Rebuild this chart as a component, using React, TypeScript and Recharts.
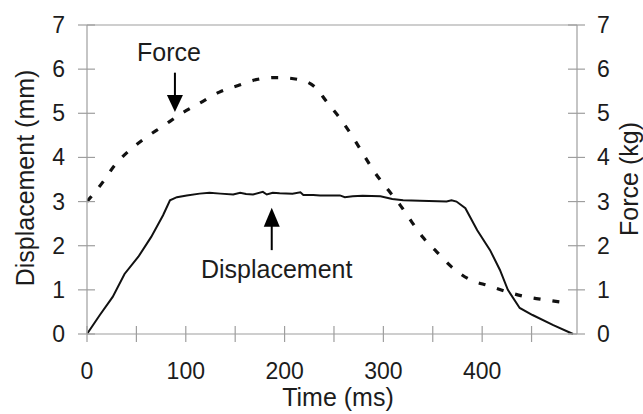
import React from 'react';
import { LineChart, Line, XAxis, YAxis, ReferenceLine, ReferenceDot, Label } from 'recharts';

const AXIS = '#9e9e9e';
const TXT = '#1c1c1c';
const FONT = '"Liberation Sans", Arial, Helvetica, sans-serif';
const FS = 23;
const TFS = 25;

// Tick values
const xTicks = [0, 50, 100, 150, 200, 250, 300, 350, 400, 450];
const xTickLabels = [0, 100, 200, 300, 400];
const yTicks = [0, 1, 2, 3, 4, 5, 6, 7];

// Displacement series (mm)
const dispTime = [0, 13, 26, 38, 52, 65, 77, 84, 91, 101, 114, 124, 135, 148, 155, 161, 168, 178, 182, 188, 195, 208, 216, 219, 229, 236, 256, 261, 269, 279, 297, 309, 320, 337, 364, 369, 374, 383, 395, 408, 418, 426, 438, 451, 472, 492];
const dispValues = [0, 0.43, 0.84, 1.36, 1.75, 2.2, 2.69, 3.03, 3.1, 3.14, 3.18, 3.2, 3.18, 3.16, 3.2, 3.17, 3.16, 3.22, 3.16, 3.2, 3.19, 3.18, 3.21, 3.15, 3.15, 3.14, 3.14, 3.1, 3.12, 3.13, 3.12, 3.06, 3.03, 3.02, 3.0, 3.03, 3.0, 2.85, 2.35, 1.9, 1.45, 1.0, 0.59, 0.43, 0.2, 0];

// Force series (kg)
const forceTime = [0, 16, 28, 41, 57, 77, 96, 114, 134, 153, 173, 193, 213, 231, 243, 256, 268, 279, 291, 305, 317, 329, 340, 354, 369, 387, 407, 426, 445, 465, 486];
const forceValues = [3.0, 3.44, 3.82, 4.12, 4.41, 4.71, 5.0, 5.23, 5.48, 5.63, 5.77, 5.81, 5.77, 5.59, 5.25, 4.89, 4.5, 4.1, 3.67, 3.26, 2.92, 2.53, 2.19, 1.86, 1.52, 1.24, 1.09, 0.95, 0.84, 0.77, 0.7];

const dispData = dispTime.map((t, i) => ({ t, v: dispValues[i] }));
const forceData = forceTime.map((t, i) => ({ t, v: forceValues[i] }));

const XTick = (props: any) => {
  const { x, y, payload } = props;
  const v = payload.value;
  return (
    <g>
      <line x1={x} x2={x} y1={y - 8} y2={y + 8} stroke={AXIS} strokeWidth={1.2} />
      {xTickLabels.includes(v) && (
        <text x={x} y={y + 37} textAnchor="middle" dominantBaseline="central" fontSize={FS} fill={TXT} fontFamily={FONT}>
          {v}
        </text>
      )}
    </g>
  );
};

const LeftTick = (props: any) => {
  const { x, y, payload } = props;
  return (
    <g>
      <line x1={x - 9} x2={x + 8} y1={y} y2={y} stroke={AXIS} strokeWidth={1.2} />
      <text x={x - 22} y={y} textAnchor="end" dominantBaseline="central" fontSize={FS} fill={TXT} fontFamily={FONT}>
        {payload.value}
      </text>
    </g>
  );
};

const RightTick = (props: any) => {
  const { x, y, payload } = props;
  return (
    <g>
      <line x1={x - 9} x2={x + 8} y1={y} y2={y} stroke={AXIS} strokeWidth={1.2} />
      <text x={x + 20} y={y} textAnchor="start" dominantBaseline="central" fontSize={FS} fill={TXT} fontFamily={FONT}>
        {payload.value}
      </text>
    </g>
  );
};

const textShape = (label: string) => (p: any) => (
  <text x={p.cx} y={p.cy} textAnchor="middle" fontSize={TFS} fill={TXT} fontFamily={FONT}>
    {label}
  </text>
);

const downHead = (p: any) => (
  <path d={`M${p.cx},${p.cy} L${p.cx - 8},${p.cy - 17} L${p.cx + 8},${p.cy - 17} Z`} fill="#000" />
);
const upHead = (p: any) => (
  <path d={`M${p.cx},${p.cy} L${p.cx - 8},${p.cy + 19} L${p.cx + 8},${p.cy + 19} Z`} fill="#000" />
);

export default function App() {
  return (
    <div style={{ position: 'absolute', left: 0, top: 0, background: '#fff' }}>
      <LineChart width={643} height={414} margin={{ top: 25, right: 0, bottom: 0, left: 0 }}>
        <XAxis
          dataKey="t"
          type="number"
          domain={[0, 496]}
          ticks={xTicks}
          interval={0}
          height={80}
          tickSize={0}
          tickMargin={0}
          tickLine={false}
          axisLine={{ stroke: AXIS, strokeWidth: 1.2 }}
          tick={<XTick />}
          allowDataOverflow
        >
          <Label
            content={(p: any) => (
              <text
                x={p.viewBox.x + p.viewBox.width / 2 + 6}
                y={p.viewBox.y + 72}
                textAnchor="middle"
                fontSize={TFS}
                fill={TXT}
                fontFamily={FONT}
              >
                Time (ms)
              </text>
            )}
          />
        </XAxis>
        <YAxis
          yAxisId="left"
          orientation="left"
          type="number"
          domain={[0, 7]}
          ticks={yTicks}
          interval={0}
          width={87}
          tickSize={0}
          tickMargin={0}
          tickLine={false}
          axisLine={{ stroke: AXIS, strokeWidth: 1.2 }}
          tick={<LeftTick />}
        >
          <Label
            content={(p: any) => {
              const cx = p.viewBox.x + 25;
              const cy = p.viewBox.y + 153;
              return (
                <text
                  x={cx}
                  y={cy}
                  transform={`rotate(-90 ${cx} ${cy})`}
                  textAnchor="middle"
                  dominantBaseline="central"
                  fontSize={TFS}
                  fill={TXT}
                  fontFamily={FONT}
                >
                  Displacement (mm)
                </text>
              );
            }}
          />
        </YAxis>
        <YAxis
          yAxisId="right"
          orientation="right"
          type="number"
          domain={[0, 7]}
          ticks={yTicks}
          interval={0}
          width={66}
          tickSize={0}
          tickMargin={0}
          tickLine={false}
          axisLine={{ stroke: AXIS, strokeWidth: 1.2 }}
          tick={<RightTick />}
        >
          <Label
            content={(p: any) => {
              const cx = p.viewBox.x + 52;
              const cy = p.viewBox.y + 154;
              return (
                <text
                  x={cx}
                  y={cy}
                  transform={`rotate(-90 ${cx} ${cy})`}
                  textAnchor="middle"
                  dominantBaseline="central"
                  fontSize={TFS}
                  fill={TXT}
                  fontFamily={FONT}
                >
                  Force (kg)
                </text>
              );
            }}
          />
        </YAxis>
        <ReferenceLine yAxisId="left" y={7} stroke={AXIS} strokeWidth={1.2} />
        <Line
          yAxisId="left"
          data={dispData}
          dataKey="v"
          type="linear"
          stroke="#111"
          strokeWidth={2}
          dot={false}
          isAnimationActive={false}
        />
        <Line
          yAxisId="right"
          data={forceData}
          dataKey="v"
          type="monotone"
          stroke="#111"
          strokeWidth={3.2}
          strokeDasharray="7 12"
          dot={false}
          isAnimationActive={false}
        />
        {/* Annotations */}
        <ReferenceDot yAxisId="left" x={83} y={6.18} r={0} ifOverflow="visible" shape={textShape('Force')} />
        <ReferenceLine
          yAxisId="left"
          segment={[{ x: 89, y: 5.92 }, { x: 89, y: 5.4 }]}
          stroke="#000"
          strokeWidth={2}
          ifOverflow="visible"
        />
        <ReferenceDot yAxisId="left" x={89} y={5.03} r={0} ifOverflow="visible" shape={downHead} />
        <ReferenceLine
          yAxisId="left"
          segment={[{ x: 187, y: 1.9 }, { x: 187, y: 2.45 }]}
          stroke="#000"
          strokeWidth={2}
          ifOverflow="visible"
        />
        <ReferenceDot yAxisId="left" x={187} y={2.86} r={0} ifOverflow="visible" shape={upHead} />
        <ReferenceDot yAxisId="left" x={192} y={1.27} r={0} ifOverflow="visible" shape={textShape('Displacement')} />
      </LineChart>
    </div>
  );
}
